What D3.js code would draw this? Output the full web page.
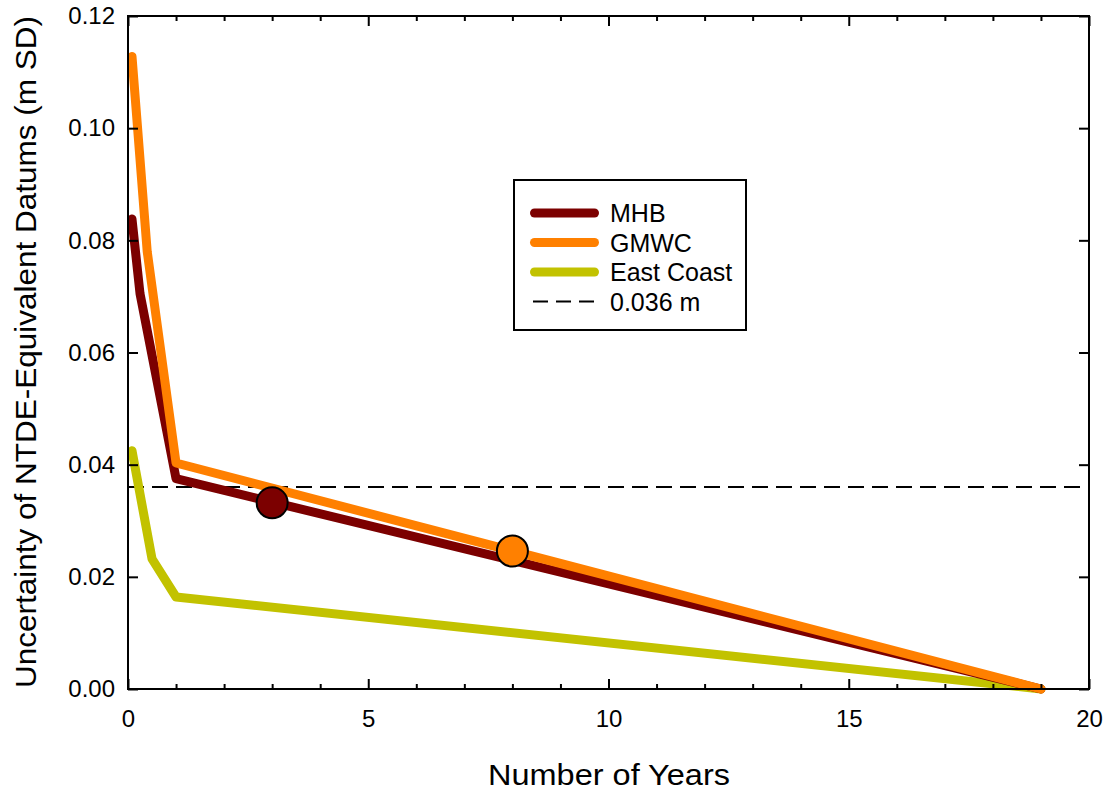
<!DOCTYPE html>
<html lang="en">
<head>
<meta charset="utf-8">
<title>NTDE uncertainty</title>
<script src="https://d3js.org/d3.v7.min.js"></script>
<style>
  body { margin: 0; background: #fff; }
  text { font-family: "Liberation Sans", Arial, sans-serif; fill: #000; }
</style>
</head>
<body>
<script>
// data (years, m SD)
var mhbYears = [0.083, 0.25, 1, 19];
var mhbValues = [0.0838, 0.0705, 0.0375, 0];
var gmwcYears = [0.083, 0.4, 1, 19];
var gmwcValues = [0.1128, 0.078, 0.0403, 0];
var eastYears = [0.083, 0.5, 1, 19];
var eastValues = [0.0425, 0.0232, 0.0164, 0];
var markerYears = [3, 8];
var markerValues = [0.0332, 0.0246];
var threshold = 0.036;
var xTicks = [0, 5, 10, 15, 20];
var yTicks = [0, 0.02, 0.04, 0.06, 0.08, 0.10, 0.12];

var width = 1110, height = 791;
var margin = {top: 16, right: 21, bottom: 102, left: 128};

var svg = d3.select("body").append("svg")
    .attr("width", width)
    .attr("height", height);

var x = d3.scaleLinear().domain([0, 20]).range([margin.left, width - margin.right]);
var y = d3.scaleLinear().domain([0, 0.12]).range([height - margin.bottom, margin.top]);

var series = [
  {name: "MHB", color: "#7c0000", years: mhbYears, values: mhbValues},
  {name: "GMWC", color: "#ff8000", years: gmwcYears, values: gmwcValues},
  {name: "East Coast", color: "#c2c200", years: eastYears, values: eastValues}
];

var line = d3.line()
    .x(function(d) { return x(d[0]); })
    .y(function(d) { return y(d[1]); });

// threshold line
svg.append("line")
    .attr("x1", x(0)).attr("x2", x(20))
    .attr("y1", y(threshold)).attr("y2", y(threshold))
    .attr("stroke", "#000")
    .attr("stroke-width", 2)
    .attr("stroke-dasharray", "16,8");

// draw east coast first, then MHB, then GMWC on top
[series[2], series[0], series[1]].forEach(function(s) {
  svg.append("path")
      .datum(d3.zip(s.years, s.values))
      .attr("d", line)
      .attr("fill", "none")
      .attr("stroke", s.color)
      .attr("stroke-width", 9)
      .attr("stroke-linejoin", "round")
      .attr("stroke-linecap", "round");
});

svg.selectAll("circle.mark")
    .data(d3.zip(markerYears, markerValues))
  .enter().append("circle")
    .attr("class", "mark")
    .attr("cx", function(d) { return x(d[0]); })
    .attr("cy", function(d) { return y(d[1]); })
    .attr("r", 15.5)
    .attr("fill", function(d, i) { return i === 0 ? "#7c0000" : "#ff8000"; })
    .attr("stroke", "#000")
    .attr("stroke-width", 2);

// axes: ticks inward on all four sides
var fmtY = d3.format(".2f");
var minorX = d3.range(1, 20).filter(function(v) { return v % 5; });
svg.append("g")
    .attr("transform", "translate(0," + y(0) + ")")
    .call(d3.axisBottom(x).tickValues(xTicks).tickSize(-10).tickPadding(21));
svg.append("g")
    .attr("transform", "translate(0," + y(0) + ")")
    .call(d3.axisBottom(x).tickValues(minorX).tickSize(-5).tickFormat(""));
svg.append("g")
    .attr("transform", "translate(0," + y(0.12) + ")")
    .call(d3.axisTop(x).tickValues(xTicks).tickSize(-10).tickFormat(""));
svg.append("g")
    .attr("transform", "translate(0," + y(0.12) + ")")
    .call(d3.axisTop(x).tickValues(minorX).tickSize(-5).tickFormat(""));
svg.append("g")
    .attr("transform", "translate(" + x(0) + ",0)")
    .call(d3.axisLeft(y).tickValues(yTicks).tickSize(-10).tickPadding(13).tickFormat(fmtY));
svg.append("g")
    .attr("transform", "translate(" + x(20) + ",0)")
    .call(d3.axisRight(y).tickValues(yTicks).tickSize(-10).tickFormat(""));

svg.selectAll(".domain").remove();
svg.selectAll(".tick line").attr("stroke", "#000").attr("stroke-width", 2);
svg.selectAll(".tick text").style("font-family", "'Liberation Sans', Arial, sans-serif")
    .style("font-size", "24px");

svg.append("rect")
    .attr("x", x(0)).attr("y", y(0.12))
    .attr("width", x(20) - x(0)).attr("height", y(0) - y(0.12))
    .attr("fill", "none")
    .attr("stroke", "#000")
    .attr("stroke-width", 2);

// axis titles
svg.append("text")
    .attr("x", 609)
    .attr("y", 785)
    .attr("text-anchor", "middle")
    .attr("textLength", 242)
    .attr("lengthAdjust", "spacingAndGlyphs")
    .style("font-size", "29px")
    .text("Number of Years");

svg.append("text")
    .attr("transform", "translate(36,352) rotate(-90)")
    .attr("text-anchor", "middle")
    .attr("textLength", 672)
    .attr("lengthAdjust", "spacingAndGlyphs")
    .style("font-size", "29px")
    .text("Uncertainty of NTDE-Equivalent Datums (m SD)");

// legend
var legend = svg.append("g").attr("transform", "translate(514,180)");
legend.append("rect")
    .attr("width", 232).attr("height", 150)
    .attr("fill", "#fff")
    .attr("stroke", "#000")
    .attr("stroke-width", 2);

var items = series.concat([{name: threshold.toFixed(3) + " m", color: "#000", dash: true}]);
items.forEach(function(s, i) {
  var ly = 33 + i * 29.5;
  legend.append("line")
      .attr("x1", s.dash ? 19 : 20.5).attr("x2", s.dash ? 81 : 80.5)
      .attr("y1", ly).attr("y2", ly)
      .attr("stroke", s.color)
      .attr("stroke-width", s.dash ? 2 : 9)
      .attr("stroke-linecap", s.dash ? "butt" : "round")
      .attr("stroke-dasharray", s.dash ? "15,8" : null);
  legend.append("text")
      .attr("x", 96)
      .attr("y", ly + 9)
      .style("font-size", "25px")
      .text(s.name);
});
</script>
</body>
</html>
